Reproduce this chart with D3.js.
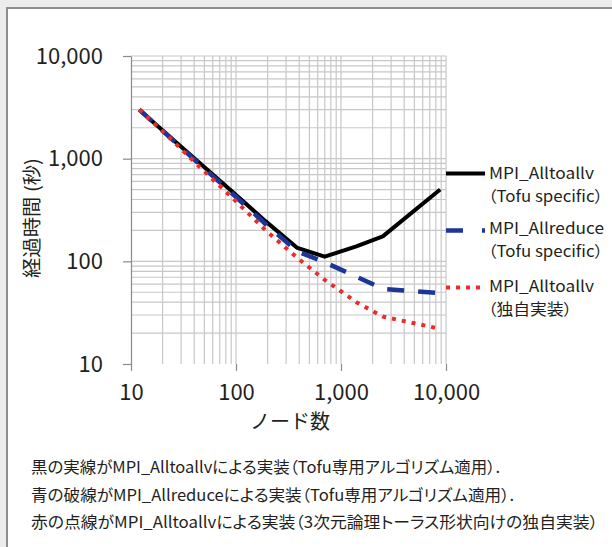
<!DOCTYPE html>
<html><head><meta charset="utf-8">
<script src="https://cdn.jsdelivr.net/npm/d3@7"></script>
<style>
html,body{margin:0;padding:0;background:#ececec;}
svg{display:block;font-family:"Noto Sans CJK JP","Noto Sans",sans-serif;}
.palt{font-feature-settings:"palt" 1;}
</style></head>
<body>
<svg id="c" width="612" height="547"></svg>
<script>
// ---- data ----
const nodes = [12, 24, 48, 96, 192, 384, 700, 1400, 2500, 8800];
const alltoallvTofu = [3000, 1600, 860, 460, 245, 135, 111, 140, 175, 500];
const allreduceTofu = [3000, 1580, 830, 440, 230, 125, 98, 71, 54, 49];
const alltoallvOwn = [3000, 1550, 780, 400, 200, 108, 66, 40, 29, 22];
const majorTicks = [10, 100, 1000, 10000];
const seriesNames = ["MPI_Alltoallv", "MPI_Allreduce", "MPI_Alltoallv"];
const seriesNotes = ["（Tofu specific）", "（Tofu specific）", "（独自実装）"];
const xTitle = "ノード数";
const yTitle = "経過時間 (秒)";
const captions = [
  "黒の実線がMPI_Alltoallvによる実装（Tofu専用アルゴリズム適用）.",
  "青の破線がMPI_Allreduceによる実装（Tofu専用アルゴリズム適用）.",
  "赤の点線がMPI_Alltoallvによる実装（3次元論理トーラス形状向けの独自実装）"
];

const svg = d3.select("#c");
// panel
svg.append("rect").attr("x",7).attr("y",8).attr("width",640).attr("height",600)
  .attr("fill","#fff").attr("stroke","#8e8e8e").attr("stroke-width",2);

const x = d3.scaleLog().domain([10,10000]).range([131,446]);
const y = d3.scaleLog().domain([10,10000]).range([364,56]);

const grid = svg.append("g").attr("stroke","#c8c8c8").attr("stroke-width",1.2);
grid.selectAll("line.v").data(x.ticks().filter(d=>d>10)).join("line")
  .attr("x1",d=>x(d)).attr("x2",d=>x(d)).attr("y1",y(10000)).attr("y2",y(10));
grid.selectAll("line.h").data(y.ticks().filter(d=>d>10)).join("line")
  .attr("class","h")
  .attr("x1",x(10)).attr("x2",x(10000)).attr("y1",d=>y(d)).attr("y2",d=>y(d));

// axes
const fmt = d3.format(",");
const yAxis = svg.append("g").attr("transform",`translate(${x(10)},0)`)
  .call(d3.axisLeft(y).tickValues(majorTicks).tickFormat(fmt).tickSize(8).tickSizeOuter(0).tickPadding(20));
const xAxis = svg.append("g").attr("transform",`translate(0,${y(10)})`)
  .call(d3.axisBottom(x).tickValues(majorTicks).tickFormat(fmt).tickSize(7).tickSizeOuter(0).tickPadding(13));
xAxis.select(".domain").remove();
[yAxis,xAxis].forEach(a=>{
  a.selectAll(".domain,.tick line").attr("stroke","#8a8a8a").attr("stroke-width",1.2);
  a.selectAll("text").attr("font-size",22).attr("fill","#231f20")
   .attr("font-family",'"Noto Sans CJK JP",sans-serif');
});

// titles
svg.append("text").attr("x",290).attr("y",429).attr("text-anchor","middle")
  .attr("font-size",20).attr("fill","#231f20").text(xTitle);
svg.append("text").attr("transform","translate(39,218) rotate(-90)").attr("text-anchor","middle")
  .attr("font-size",19).attr("fill","#231f20").attr("textLength",120).attr("lengthAdjust","spacingAndGlyphs").text(yTitle);

// lines
const line = d3.line().x(d=>x(d[0])).y(d=>y(d[1]));
const mk = arr => nodes.map((n,i)=>[n,arr[i]]);
svg.append("path").attr("d",line(mk(alltoallvTofu))).attr("fill","none")
  .attr("stroke","#000").attr("stroke-width",4).attr("stroke-linejoin","round");
svg.append("path").attr("d",line(mk(allreduceTofu))).attr("fill","none")
  .attr("stroke","#1c3596").attr("stroke-width",4.5).attr("stroke-dasharray","17,14");
svg.append("path").attr("d",line(mk(alltoallvOwn))).attr("fill","none")
  .attr("stroke","#ee2a2a").attr("stroke-width",4).attr("stroke-dasharray","4,6");

// legend
const leg = [
  {y:173.5, stroke:"#000", dash:null, w:4, ty:179, l1:105, l2:115},
  {y:230.5, stroke:"#1c3596", dash:"17,19", w:4.5, ty:234, l1:115, l2:115},
  {y:287.5, stroke:"#ee2a2a", dash:"4,6", w:4, ty:292, l1:105, l2:84}
];
leg.forEach((l,i)=>{
  svg.append("line").attr("x1",446).attr("x2",485).attr("y1",l.y).attr("y2",l.y)
    .attr("stroke",l.stroke).attr("stroke-width",l.w).attr("stroke-dasharray",l.dash);
  svg.append("text").attr("x",489).attr("y",l.ty).attr("font-size",15.5).attr("fill","#231f20")
    .attr("textLength",l.l1).attr("lengthAdjust","spacingAndGlyphs").text(seriesNames[i]);
  svg.append("text").attr("class","palt").attr("x",488).attr("y",l.ty+23).attr("font-size",15.5).attr("fill","#231f20")
    .attr("textLength",l.l2).attr("lengthAdjust","spacingAndGlyphs").text(seriesNotes[i]);
});

// captions
const capLen = [469, 483, 567];
captions.forEach((c,i)=>{
  svg.append("text").attr("class","palt").attr("x",31).attr("y",473+i*27.5).attr("font-size",16)
    .attr("fill","#231f20").attr("textLength",capLen[i]).attr("lengthAdjust","spacingAndGlyphs").text(c);
});
</script>
</body></html>
